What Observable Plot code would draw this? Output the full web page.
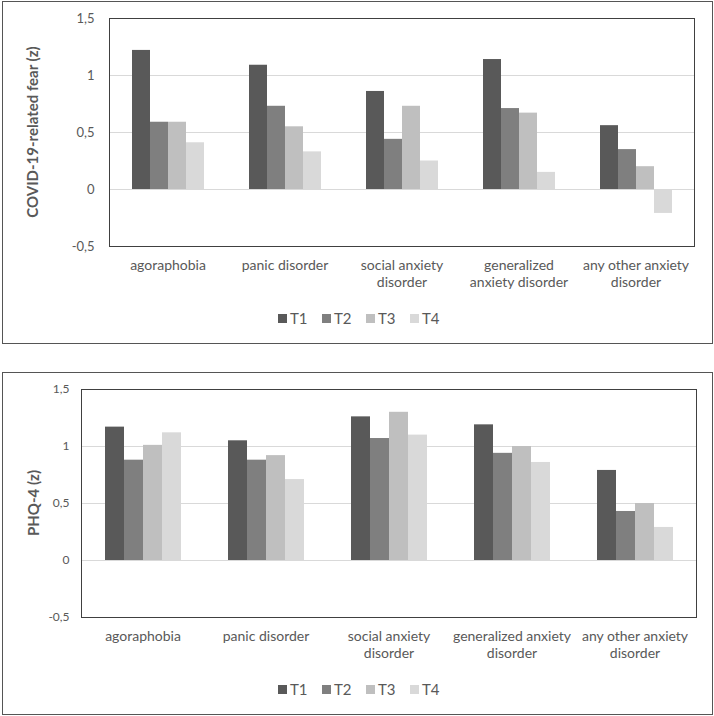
<!DOCTYPE html>
<html>
<head>
<meta charset="utf-8">
<script src="https://cdn.jsdelivr.net/npm/d3@7"></script>
<script src="https://cdn.jsdelivr.net/npm/@observablehq/plot@0.6"></script>
<style>
  body { margin: 0; background: #fff; font-family: Lato, "Noto Sans", sans-serif; }
  .panel { position: absolute; left: 2px; width: 711px; height: 343px; box-sizing: border-box; border: 1px solid #555; }
  .panel svg { position: absolute; left: 0; top: 0; }
  .ytitle { position: absolute; transform: translate(-50%, -50%) rotate(-90deg); white-space: nowrap; font-weight: bold; font-size: 15px; color: #595959; }
  .legend { position: absolute; display: flex; font-size: 15px; color: #595959; }
  .legend .item { display: flex; align-items: center; width: 44px; }
  .legend .sw { width: 9px; height: 9px; margin-right: 3px; }
</style>
</head>
<body>
<div id="p1" class="panel" style="top:1px"></div>
<div id="p2" class="panel" style="top:372px"></div>
<script>
const categories = ["agoraphobia", "panic disorder", "social anxiety disorder", "generalized anxiety disorder", "any other anxiety disorder"];
const topLabels = ["agoraphobia", "panic disorder", "social anxiety\ndisorder", "generalized\nanxiety disorder", "any other anxiety\ndisorder"];
const bottomLabels = ["agoraphobia", "panic disorder", "social anxiety\ndisorder", "generalized anxiety\ndisorder", "any other anxiety\ndisorder"];
const series = ["T1", "T2", "T3", "T4"];
const colors = ["#595959", "#7f7f7f", "#bfbfbf", "#d9d9d9"];
const yTicks = [-0.5, 0, 0.5, 1, 1.5];

// COVID-19-related fear (z)
const fearT1 = [1.22, 1.09, 0.86, 1.14, 0.56];
const fearT2 = [0.59, 0.73, 0.44, 0.71, 0.35];
const fearT3 = [0.59, 0.55, 0.73, 0.67, 0.20];
const fearT4 = [0.41, 0.33, 0.25, 0.15, -0.21];

// PHQ-4 (z)
const phqT1 = [1.17, 1.05, 1.26, 1.19, 0.79];
const phqT2 = [0.88, 0.88, 1.07, 0.94, 0.43];
const phqT3 = [1.01, 0.92, 1.30, 1.00, 0.50];
const phqT4 = [1.12, 0.71, 1.10, 0.86, 0.29];

function toRows(arrs) {
  const rows = [];
  categories.forEach((c, i) => arrs.forEach((a, j) => rows.push({cat: c, s: series[j], v: a[i]})));
  return rows;
}
const fmt = d => String(d).replace(".", ",");

function makeChart({rows, labels, marginLeft, tickPad, tickFont, xPad}) {
  const labelOf = new Map(categories.map((c, i) => [c, labels[i]]));
  return Plot.plot({
    width: 708, height: 300,
    marginLeft, marginRight: 15, marginTop: 16, marginBottom: 56,
    style: {fontFamily: "Lato, 'Noto Sans', sans-serif", color: "#595959", background: "transparent", overflow: "visible"},
    fx: {domain: categories, padding: 0, axis: null},
    x: {domain: series, paddingInner: 0, paddingOuter: xPad, axis: null},
    y: {domain: [-0.5, 1.5], axis: null},
    color: {domain: series, range: colors},
    marks: [
      Plot.ruleY([0, 0.5, 1], {stroke: "#d9d9d9", strokeWidth: 1}),
      Plot.barY(rows, {fx: "cat", x: "s", y: "v", fill: "s"}),
      Plot.frame({facet: "super", stroke: "#404040"}),
      Plot.axisY({ticks: yTicks, tickSize: 0, tickPadding: tickPad, tickFormat: fmt, fontSize: tickFont, label: null}),
      Plot.axisFx({anchor: "bottom", tickSize: 0, tickPadding: 12, tickFormat: d => labelOf.get(d), fontSize: 14, lineHeight: 1.2, label: null})
    ]
  });
}

function addExtras(title, titleX, titleY, legendY) {
  const t = document.createElement("div");
  t.className = "ytitle";
  t.textContent = title;
  t.style.left = titleX + "px";
  t.style.top = titleY + "px";
  document.body.appendChild(t);
  const lg = document.createElement("div");
  lg.className = "legend";
  lg.style.left = "278px";
  lg.style.top = (legendY - 10) + "px";
  lg.style.height = "20px";
  series.forEach((s, i) => {
    const it = document.createElement("div");
    it.className = "item";
    const sw = document.createElement("div");
    sw.className = "sw";
    sw.style.background = colors[i];
    const tx = document.createElement("span");
    tx.textContent = s;
    it.appendChild(sw); it.appendChild(tx);
    lg.appendChild(it);
  });
  document.body.appendChild(lg);
}

document.getElementById("p1").appendChild(makeChart({
  rows: toRows([fearT1, fearT2, fearT3, fearT4]), labels: topLabels,
  marginLeft: 104, tickPad: 15, tickFont: 13, xPad: 1.14
}));
document.getElementById("p2").appendChild(makeChart({
  rows: toRows([phqT1, phqT2, phqT3, phqT4]), labels: bottomLabels,
  marginLeft: 77, tickPad: 12, tickFont: 12, xPad: 1.1
}));
addExtras("COVID-19-related fear (z)", 32, 132, 318);
addExtras("PHQ-4 (z)", 33, 503, 689);
</script>
</body>
</html>
